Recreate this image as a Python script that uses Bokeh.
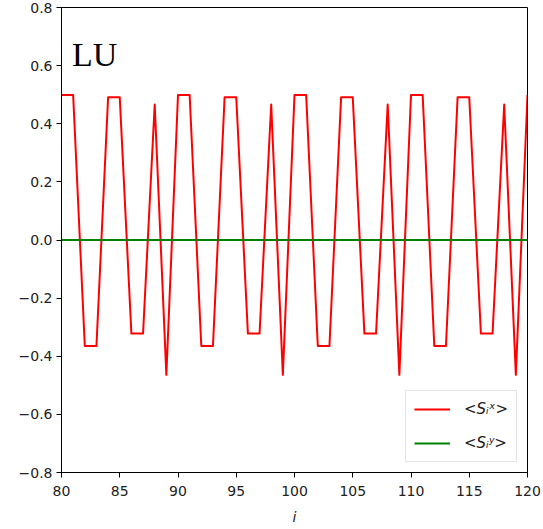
from bokeh.plotting import figure
from bokeh.models import Range1d, FixedTicker, CustomJSTickFormatter, Legend, LegendItem, Label
from bokeh.embed import file_html
from bokeh.resources import INLINE

# ---- data ----
site_i = list(range(80, 121))
sx_vals = [0.499, 0.499, -0.365, -0.365, 0.491, 0.491, -0.322, -0.322, 0.466, -0.464,
           0.499, 0.499, -0.365, -0.365, 0.491, 0.491, -0.322, -0.322, 0.466, -0.464,
           0.499, 0.499, -0.365, -0.365, 0.491, 0.491, -0.322, -0.322, 0.466, -0.464,
           0.499, 0.499, -0.365, -0.365, 0.491, 0.491, -0.322, -0.322, 0.466, -0.464,
           0.499]
sy_vals = [0.0, 0.0, 0.0, 0.0, 0.0, 0.0, 0.0, 0.0, 0.0, 0.0,
           0.0, 0.0, 0.0, 0.0, 0.0, 0.0, 0.0, 0.0, 0.0, 0.0,
           0.0, 0.0, 0.0, 0.0, 0.0, 0.0, 0.0, 0.0, 0.0, 0.0,
           0.0, 0.0, 0.0, 0.0, 0.0, 0.0, 0.0, 0.0, 0.0, 0.0,
           0.0]
x_ticks = [80, 85, 90, 95, 100, 105, 110, 115, 120]
y_ticks = [-0.8, -0.6, -0.4, -0.2, 0.0, 0.2, 0.4, 0.6, 0.8]
legend_labels = ["<Sᵢˣ>", "<Sᵢʸ>"]
panel_label = "LU"

p = figure(width=541, height=527, output_backend="svg", toolbar_location=None,
           x_range=Range1d(80, 120), y_range=Range1d(-0.8, 0.8),
           min_border_left=61, min_border_right=14, min_border_top=7, min_border_bottom=10)

p.xgrid.visible = False
p.ygrid.visible = False
p.outline_line_color = "black"
p.outline_line_width = 1
p.outline_line_alpha = 1
p.background_fill_color = "white"
p.border_fill_color = "white"

p.xaxis.ticker = FixedTicker(ticks=x_ticks)
p.yaxis.ticker = FixedTicker(ticks=y_ticks)
p.yaxis.formatter = CustomJSTickFormatter(code="""
    return (tick < -1e-9 ? '\\u2212' : '') + Math.abs(tick).toFixed(1);
""")

for ax in (p.xaxis[0], p.yaxis[0]):
    ax.major_tick_in = 0
    ax.major_tick_out = 5
    ax.minor_tick_in = 0
    ax.minor_tick_out = 0
    ax.axis_line_color = "black"
    ax.major_tick_line_color = "black"
    ax.axis_line_width = 1
    ax.major_label_text_font = "DejaVu Sans"
    ax.major_label_text_font_size = "14px"
    ax.major_label_text_color = "#222222"
    ax.major_label_standoff = 4

p.xaxis.major_label_standoff = 8
p.xaxis.axis_label = "i"
p.xaxis.axis_label_text_font = "DejaVu Sans"
p.xaxis.axis_label_text_font_style = "italic"
p.xaxis.axis_label_text_font_size = "14px"
p.xaxis.axis_label_text_color = "#222222"
p.xaxis.axis_label_standoff = 10

r1 = p.line(site_i, sx_vals, line_color="red", line_width=2, line_join="round")
r2 = p.line(site_i, sy_vals, line_color="green", line_width=2.2, line_join="round")

legend = Legend(items=[LegendItem(label=legend_labels[0], renderers=[r1]),
                       LegendItem(label=legend_labels[1], renderers=[r2])],
                location="bottom_right")
legend.label_text_font = "DejaVu Sans"
legend.label_text_font_style = "italic"
legend.label_text_font_size = "15px"
legend.label_text_color = "#222222"
legend.glyph_width = 36
legend.glyph_height = 20
legend.label_height = 20
legend.label_standoff = 14
legend.spacing = 14
legend.padding = 8
legend.margin = 10
legend.border_line_color = "#cccccc"
legend.border_line_width = 1
legend.background_fill_color = "white"
legend.background_fill_alpha = 0.8
p.add_layout(legend)

p.add_layout(Label(x=80.9, y=0.64, text=panel_label, text_font="Liberation Serif",
                   text_font_size="34px", text_color="black",
                   text_align="left", text_baseline="alphabetic"))

open("out.html", "w").write(file_html(p, INLINE))
